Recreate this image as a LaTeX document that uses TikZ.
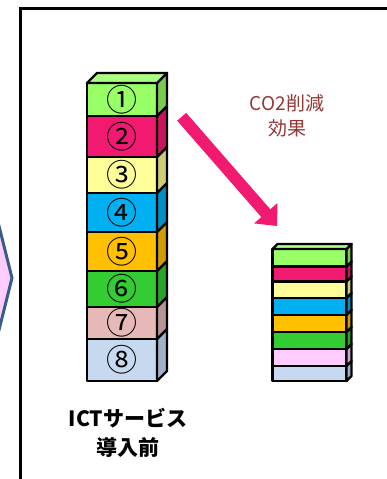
\documentclass[tikz,border=0pt]{standalone}
\usepackage{fontspec}
\newfontfamily\jp{Noto Sans CJK JP}
\definecolor{fa}{HTML}{99FF66}\definecolor{sa}{HTML}{77CC4D}\definecolor{ta}{HTML}{AAFF80}
\definecolor{fb}{HTML}{F21A70}\definecolor{sb}{HTML}{C8145C}
\definecolor{fc}{HTML}{FFFF99}\definecolor{sc}{HTML}{CCCC77}
\definecolor{fd}{HTML}{00B0F0}\definecolor{sd}{HTML}{0090C4}
\definecolor{fe}{HTML}{FFC000}\definecolor{se}{HTML}{D09C00}
\definecolor{ff}{HTML}{33CC33}\definecolor{sf}{HTML}{28A428}
\definecolor{fg}{HTML}{E6B9B8}\definecolor{sg}{HTML}{B89494}
\definecolor{fgr}{HTML}{FFCCFF}\definecolor{sgr}{HTML}{D0A8D0}
\definecolor{fh}{HTML}{C6D9F1}\definecolor{sh}{HTML}{A0B0C8}
\definecolor{arrowpink}{HTML}{F21A70}
\definecolor{co2col}{HTML}{953735}
\definecolor{navyline}{HTML}{385D8A}
\newcommand\mycube[7]{%
  \filldraw[blk,fill=#6] (#1,#2) rectangle ({#1+#4},#3);
  \filldraw[blk,fill=#7] ({#1+#4},#2) -- ({#1+#4+#5},{#2-#5}) -- ({#1+#4+#5},{#3-#5}) -- ({#1+#4},#3) -- cycle;}
\begin{document}
\begin{tikzpicture}[x=1pt,y=-1pt,
  blk/.style={draw=black,line width=2.4pt,line join=round},
  num/.style={font=\jp\fontsize{31}{31}\selectfont, inner sep=0pt},
  label/.style={font=\jp\bfseries\fontsize{21}{29}\selectfont, align=center, inner sep=0pt},
  co2/.style={font=\jp\fontsize{19}{25}\selectfont, align=center, inner sep=0pt, text=co2col}]
\useasboundingbox (0,0) rectangle (387,479);
\clip (0,0) rectangle (387,479);
\fill[white] (0,0) rectangle (387,479);
% left partial shape
\filldraw[fill=fgr, draw=navyline, line width=3pt, line join=miter] (-8,198) -- (12,278) -- (-8,358);
% frame
\draw[line width=3pt] (20,490) -- (20,8.5) -- (395,8.5);
% left tower
\mycube{87}{339}{381}{70}{10}{fh}{sh}
\mycube{87}{307}{339}{70}{10}{fg}{sg}
\mycube{87}{271}{307}{70}{10}{ff}{sf}
\mycube{87}{232}{271}{70}{10}{fe}{se}
\mycube{87}{193}{232}{70}{10}{fd}{sd}
\mycube{87}{157}{193}{70}{10}{fc}{sc}
\mycube{87}{116}{157}{70}{10}{fb}{sb}
\mycube{87}{83}{116}{70}{10}{fa}{sa}
\filldraw[blk,fill=ta] (87,83) -- (97,73) -- (167,73) -- (157,83) -- cycle;
\node[num] (n1) at (122,99.5) {①};
\node[num] (n2) at (122,136.5) {②};
\node[num] (n3) at (122,175) {③};
\node[num] (n4) at (122,212.5) {④};
\node[num] (n5) at (122,251.5) {⑤};
\node[num] (n6) at (122,289) {⑥};
\node[num] (n7) at (122,323) {⑦};
\node[num] (n8) at (122,360) {⑧};
% right tower
\mycube{272.5}{366}{381}{74}{5}{fh}{sh}
\mycube{272.5}{349}{366}{74}{5}{fgr}{sgr}
\mycube{272.5}{332}{349}{74}{5}{ff}{sf}
\mycube{272.5}{315}{332}{74}{5}{fe}{se}
\mycube{272.5}{298}{315}{74}{5}{fd}{sd}
\mycube{272.5}{281.5}{298}{74}{5}{fc}{sc}
\mycube{272.5}{266.5}{281.5}{74}{5}{fb}{sb}
\mycube{272.5}{249}{266.5}{74}{5}{fa}{sa}
\filldraw[blk,fill=ta] (272.5,249) -- (277.5,244) -- (351.5,244) -- (346.5,249) -- cycle;
% arrow
\coordinate (tailA) at (186.2,112.9);
\coordinate (tailB) at (177.2,120.7);
\coordinate (shA) at (270.3,209.3);
\coordinate (shB) at (261.3,217.1);
\coordinate (hdA) at (277.5,203.0);
\coordinate (hdB) at (254.1,223.4);
\coordinate (tip) at (277,226);
\fill[arrowpink] (tailA) -- (shA) -- (hdA) -- (tip) -- (hdB) -- (shB) -- (tailB) -- cycle;
% texts
\node[co2] (co2) at (287,115.5) {CO2削減\\効果};
\node[label] (lbl) at (128,432.5) {ICTサービス\\導入前};
\end{tikzpicture}
\end{document}
